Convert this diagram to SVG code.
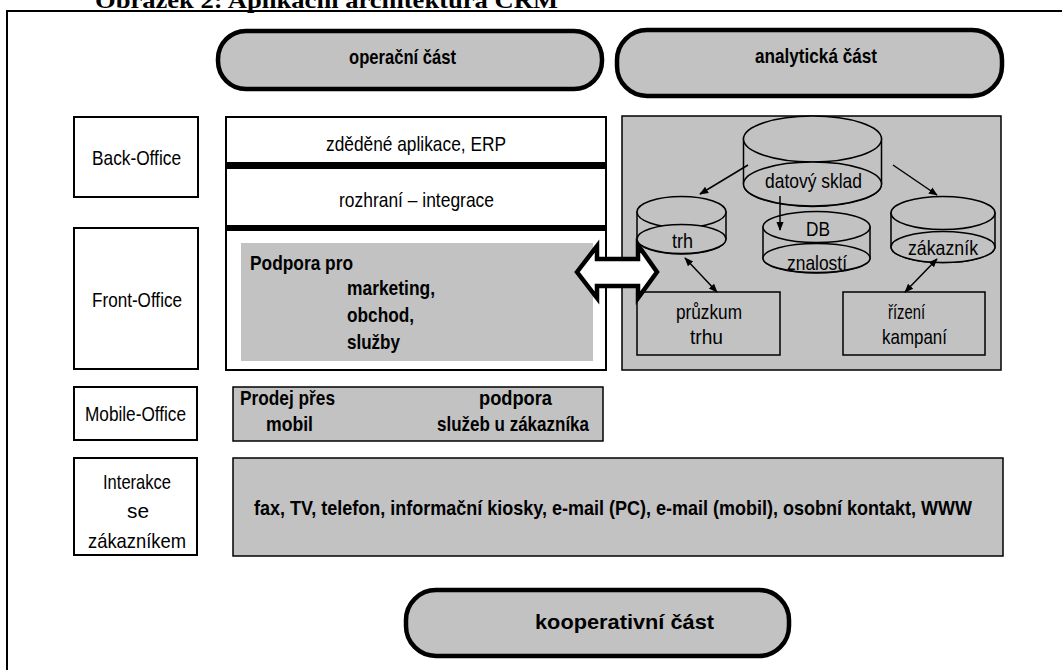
<svg xmlns="http://www.w3.org/2000/svg" width="1062" height="670" viewBox="0 0 1062 670">
<style>
.t{font-family:"Liberation Sans",Arial,sans-serif;font-size:21px;fill:#000}
.b{font-weight:bold}
.box{fill:#fff;stroke:#000;stroke-width:2}
.gray{fill:#c2c2c2;stroke:#000;stroke-width:1.5}
.pill{fill:#c2c2c2;stroke:#000;stroke-width:4.5}
.cyl{fill:#c2c2c2;stroke:#000;stroke-width:1.5}
.con{fill:none;stroke:#000;stroke-width:1.5}
</style>
<defs>
<marker id="ah" viewBox="0 0 10 10" refX="9" refY="5" markerWidth="9" markerHeight="9" markerUnits="userSpaceOnUse" orient="auto-start-reverse">
<path d="M0,1 L10,5 L0,9 Z" fill="#000"/>
</marker>
</defs>
<rect width="1062" height="670" fill="#fff"/>
<text x="95" y="8" font-family="'Liberation Serif',serif" font-weight="bold" font-size="23" textLength="463" lengthAdjust="spacingAndGlyphs">Obrázek 2: Aplikační architektura CRM</text>
<path d="M1062,11 H7 V670" fill="none" stroke="#000" stroke-width="2"/>

<g id="operacni">
<rect class="pill" x="218" y="31" width="384" height="58" rx="28"/>
<text class="t b" x="349" y="64" textLength="107" lengthAdjust="spacingAndGlyphs">operační část</text>
</g>
<g id="analyticka">
<rect class="pill" x="617" y="30" width="385" height="66" rx="30"/>
<text class="t b" x="755" y="63" textLength="122" lengthAdjust="spacingAndGlyphs">analytická část</text>
</g>

<g id="back-office">
<rect class="box" x="74" y="117" width="124" height="80"/>
<text class="t" x="92" y="165" textLength="89" lengthAdjust="spacingAndGlyphs">Back-Office</text>
</g>
<g id="front-office">
<rect class="box" x="74" y="228" width="124" height="141"/>
<text class="t" x="92" y="307" textLength="90" lengthAdjust="spacingAndGlyphs">Front-Office</text>
</g>
<g id="mobile-office">
<rect class="box" x="74" y="387" width="123" height="53"/>
<text class="t" x="85" y="421" textLength="101" lengthAdjust="spacingAndGlyphs">Mobile-Office</text>
</g>
<g id="interakce">
<rect class="box" x="74" y="458" width="123" height="97"/>
<text class="t" x="103" y="489" textLength="68" lengthAdjust="spacingAndGlyphs">Interakce</text>
<text class="t" x="127" y="518" textLength="22" lengthAdjust="spacingAndGlyphs">se</text>
<text class="t" x="88" y="548" textLength="98" lengthAdjust="spacingAndGlyphs">zákazníkem</text>
</g>

<g id="operacni-sloupec">
<rect class="box" x="226" y="117" width="380" height="253"/>
<rect x="226" y="162" width="380" height="7" fill="#000"/>
<rect x="226" y="225" width="380" height="6" fill="#000"/>
<text class="t" x="326" y="151" textLength="180" lengthAdjust="spacingAndGlyphs">zděděné aplikace, ERP</text>
<text class="t" x="339" y="207" textLength="155" lengthAdjust="spacingAndGlyphs">rozhraní – integrace</text>
</g>
<g id="podpora">
<rect x="241" y="243" width="352" height="118" fill="#c2c2c2"/>
<text class="t b" x="250" y="270" textLength="103" lengthAdjust="spacingAndGlyphs">Podpora pro</text>
<text class="t b" x="347" y="295" textLength="88" lengthAdjust="spacingAndGlyphs">marketing,</text>
<text class="t b" x="347" y="322" textLength="67" lengthAdjust="spacingAndGlyphs">obchod,</text>
<text class="t b" x="347" y="349" textLength="53" lengthAdjust="spacingAndGlyphs">služby</text>
</g>

<g id="mobil">
<rect class="gray" x="233" y="387" width="370" height="54" stroke-width="2"/>
<text class="t b" x="240" y="405" textLength="95" lengthAdjust="spacingAndGlyphs">Prodej přes</text>
<text class="t b" x="266" y="431" textLength="47" lengthAdjust="spacingAndGlyphs">mobil</text>
<text class="t b" x="479" y="405" textLength="73" lengthAdjust="spacingAndGlyphs">podpora</text>
<text class="t b" x="437" y="431" textLength="152" lengthAdjust="spacingAndGlyphs">služeb u zákazníka</text>
</g>
<g id="kanaly">
<rect class="gray" x="233" y="458" width="770" height="98" stroke-width="2"/>
<text class="t b" x="254" y="515" font-size="17" textLength="718" lengthAdjust="spacingAndGlyphs">fax, TV, telefon, informační kiosky, e-mail (PC), e-mail (mobil), osobní kontakt, WWW</text>
</g>

<g id="analyticka-oblast">
<rect class="gray" x="622" y="116" width="379" height="254"/>
</g>
<g id="datovy-sklad">
<path class="cyl" d="M743.5,139 V184 A69,22.5 0 0 0 881.5,184 V139 Z"/>
<ellipse class="cyl" cx="812.5" cy="139" rx="69" ry="23"/>
<ellipse class="cyl" cx="812.5" cy="184" rx="69" ry="22"/>
<text class="t" x="765" y="188" textLength="97" lengthAdjust="spacingAndGlyphs">datový sklad</text>
</g>
<g id="trh">
<path class="cyl" d="M637,212 V239 A44.5,15 0 0 0 726,239 V212 Z"/>
<ellipse class="cyl" cx="681.5" cy="212" rx="44.5" ry="15.5"/>
<ellipse class="cyl" cx="681.5" cy="239" rx="44.5" ry="14.5"/>
<text class="t" x="672" y="248" textLength="21" lengthAdjust="spacingAndGlyphs">trh</text>
</g>
<g id="db">
<path class="cyl" d="M763,227 V258 A53.5,15 0 0 0 870,258 V227 Z"/>
<ellipse class="cyl" cx="816.5" cy="227" rx="53.5" ry="15.5"/>
<ellipse class="cyl" cx="816.5" cy="258" rx="53.5" ry="14.5"/>
<text class="t" x="806" y="236" textLength="24" lengthAdjust="spacingAndGlyphs">DB</text>
<text class="t" x="787" y="270" textLength="60" lengthAdjust="spacingAndGlyphs">znalostí</text>
</g>
<g id="zakaznik">
<path class="cyl" d="M891,213 V247 A52,15.5 0 0 0 995,247 V213 Z"/>
<ellipse class="cyl" cx="943" cy="213" rx="52" ry="16.5"/>
<ellipse class="cyl" cx="943" cy="247" rx="52" ry="15.5"/>
<text class="t" x="908" y="255" textLength="70" lengthAdjust="spacingAndGlyphs">zákazník</text>
</g>
<g id="pruzkum">
<rect class="gray" x="637" y="292" width="143" height="63"/>
<text class="t" x="676" y="319" textLength="66" lengthAdjust="spacingAndGlyphs">průzkum</text>
<text class="t" x="690" y="344" textLength="33" lengthAdjust="spacingAndGlyphs">trhu</text>
</g>
<g id="rizeni">
<rect class="gray" x="843" y="292" width="142" height="63"/>
<text class="t" x="888" y="319" textLength="37" lengthAdjust="spacingAndGlyphs">řízení</text>
<text class="t" x="882" y="344" textLength="65" lengthAdjust="spacingAndGlyphs">kampaní</text>
</g>

<g id="kooperativni">
<rect class="pill" x="406" y="590" width="383" height="66" rx="30"/>
<text class="t b" x="535" y="629" textLength="179" lengthAdjust="spacingAndGlyphs">kooperativní část</text>
</g>

<g id="connectors">
<path d="M577,272 L597,246 L597,259 L638,259 L638,245 L657,272 L638,298 L638,286 L597,286 L597,298 Z" fill="#fff" stroke="#000" stroke-width="4.5" stroke-linejoin="miter"/>
<line class="con" x1="748" y1="165" x2="700" y2="194" marker-end="url(#ah)"/>
<line class="con" x1="780" y1="196" x2="780" y2="230" marker-end="url(#ah)"/>
<line class="con" x1="893" y1="165" x2="937" y2="195" marker-end="url(#ah)"/>
<line class="con" x1="685" y1="258" x2="717" y2="292" marker-start="url(#ah)" marker-end="url(#ah)"/>
<line class="con" x1="937" y1="259" x2="905" y2="292" marker-start="url(#ah)" marker-end="url(#ah)"/>
</g>
</svg>
